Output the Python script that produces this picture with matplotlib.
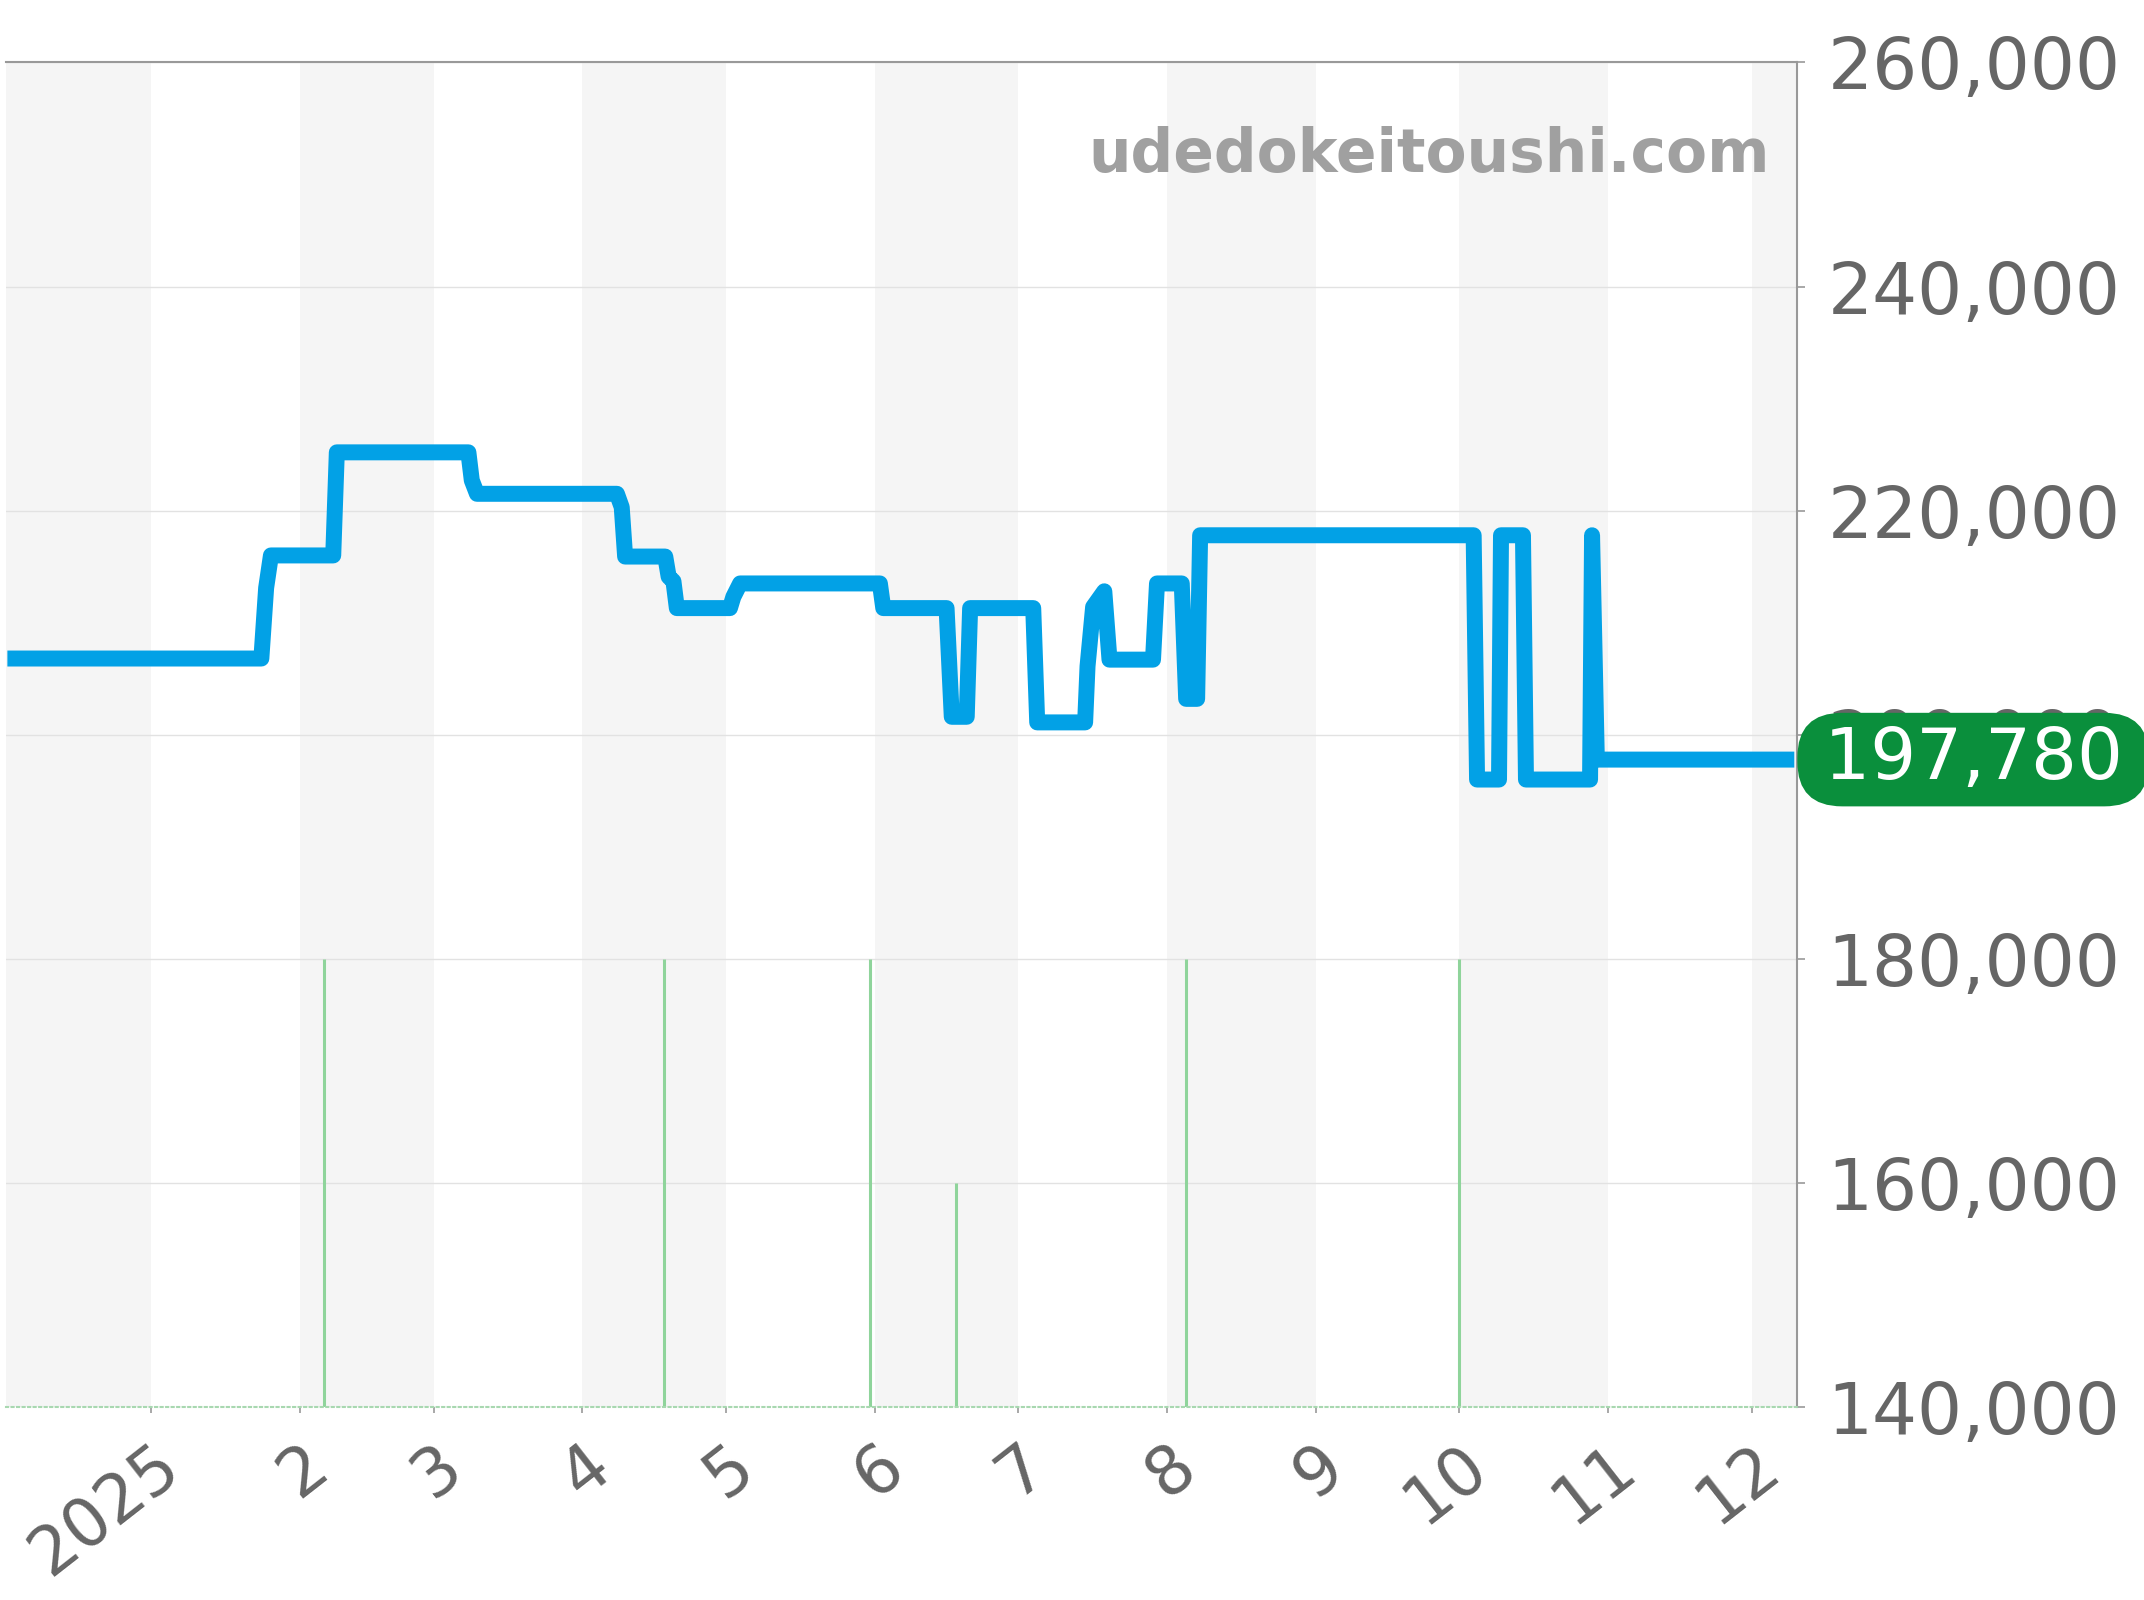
import pandas as pd
import matplotlib
matplotlib.use("Agg")
import matplotlib.pyplot as plt
import matplotlib.dates as mdates

# 相場推移（青い線）
price_dates = [
    "2024-12-02 00:00", "2025-01-24 00:00", "2025-01-25 00:00", "2025-01-26 00:00",
    "2025-02-08 00:00", "2025-02-08 18:00", "2025-03-08 05:00", "2025-03-08 22:00",
    "2025-03-10 00:00", "2025-04-08 05:00", "2025-04-09 05:00", "2025-04-09 22:00",
    "2025-04-18 07:00", "2025-04-19 00:00", "2025-04-20 00:00", "2025-04-20 17:00",
    "2025-05-01 19:00", "2025-05-02 12:00", "2025-05-03 22:00", "2025-06-02 02:00",
    "2025-06-02 19:00", "2025-06-16 00:00", "2025-06-17 02:00", "2025-06-20 05:00",
    "2025-06-20 22:00", "2025-07-04 02:00", "2025-07-04 22:00", "2025-07-14 22:00",
    "2025-07-15 10:00", "2025-07-16 14:00", "2025-07-18 22:00", "2025-07-20 00:00",
    "2025-07-29 02:00", "2025-07-29 22:00", "2025-08-04 02:00", "2025-08-05 00:00",
    "2025-08-07 07:00", "2025-08-07 22:00", "2025-10-04 00:00", "2025-10-04 17:00",
    "2025-10-09 07:00", "2025-10-09 17:00", "2025-10-14 07:00", "2025-10-14 22:00",
    "2025-10-28 07:00", "2025-10-28 17:00", "2025-10-29 17:00", "2025-12-09 22:00",
]
price_values = [
    206800, 206800, 213100, 216000,
    216000, 225200, 225200, 222700,
    221500, 221500, 220300, 215900,
    215900, 214100, 213700, 211300,
    211300, 212300, 213500, 213500,
    211300, 211300, 201600, 201600,
    211300, 211300, 201100, 201100,
    206100, 211400, 212800, 206700,
    206700, 213500, 213500, 203200,
    203200, 217800, 217800, 196000,
    196000, 217800, 217800, 196000,
    196000, 217800, 197780, 197780,
]

# 緑の縦線
mark_dates = ["2025-02-06", "2025-04-18", "2025-05-31", "2025-06-18", "2025-08-05", "2025-10-01"]
mark_values = [180000, 180000, 180000, 160000, 180000, 180000]

month_labels = ["2025", "2", "3", "4", "5", "6", "7", "8", "9", "10", "11", "12"]
y_ticks = [140000, 160000, 180000, 200000, 220000, 240000, 260000]
last_price = 197780

x_start, x_end = "2024-12-01 16:00", "2025-12-10 12:00"
blue = "#02a1e6"
green = "#0a8f3c"
gray_txt = "#666666"


def main():
    fig = plt.figure(figsize=(21.44, 16), dpi=100)
    ax = fig.add_axes([0.0027, 0.1206, 0.8355, 0.8404])

    # 月ごとの背景（交互）
    months = pd.date_range("2024-12-01", "2026-01-01", freq="MS")
    for i in range(len(months) - 1):
        if i % 2 == 0:
            ax.axvspan(months[i], months[i + 1], color="#f5f5f5", lw=0, zorder=0)

    ax.vlines(pd.to_datetime(mark_dates), y_ticks[0], mark_values,
              color="#8fd49b", lw=2.2, zorder=2)
    ax.plot(pd.to_datetime(price_dates), price_values, color=blue, lw=11.5,
            solid_joinstyle="round", solid_capstyle="butt", zorder=3)

    ax.set_xlim(pd.Timestamp(x_start), pd.Timestamp(x_end))
    ax.set_ylim(y_ticks[0], y_ticks[-1])

    # y軸（右側）
    ax.yaxis.tick_right()
    ax.set_yticks(y_ticks)
    ax.set_yticklabels([f"{v:,}" for v in y_ticks])
    ax.tick_params(axis="y", length=6, width=1.2, color="#999999", pad=16,
                   labelsize=51, labelcolor=gray_txt)
    ax.yaxis.grid(True, color="#e2e2e2", lw=1.0)
    ax.set_axisbelow(True)

    # x軸（月）
    ticks = pd.date_range("2025-01-01", "2025-12-01", freq="MS")
    ax.set_xticks(mdates.date2num(ticks))
    ax.set_xticklabels(month_labels, rotation=38, ha="right", va="top",
                       rotation_mode="anchor")
    ax.tick_params(axis="x", length=4, width=1.2, color="#999999", pad=14,
                   labelsize=48, labelcolor=gray_txt)

    ax.spines["left"].set_visible(False)
    for s in ("top", "right"):
        ax.spines[s].set_color("#999999")
        ax.spines[s].set_linewidth(1.5)
    ax.spines["bottom"].set_color("#a8d8b0")
    ax.spines["bottom"].set_linestyle(":")
    ax.spines["bottom"].set_linewidth(1.5)

    # ウォーターマーク
    ax.text(0.985, 0.9185, "udedokeitoushi.com", transform=ax.transAxes,
            ha="right", va="baseline", fontsize=43, fontweight="bold",
            color="#a0a0a0", zorder=4)

    # 最新価格のバッジ
    ax.annotate(f"\u2009{last_price:,}\u2009", xy=(1, last_price),
                xycoords=ax.get_yaxis_transform(), xytext=(9, 0),
                textcoords="offset points", ha="left", va="center",
                fontsize=52, color="white", annotation_clip=False, zorder=6,
                bbox=dict(boxstyle="round,pad=0.17,rounding_size=0.62",
                          fc=green, ec="none"))

    fig.savefig("out.png", dpi=100)


if __name__ == "__main__":
    main()
